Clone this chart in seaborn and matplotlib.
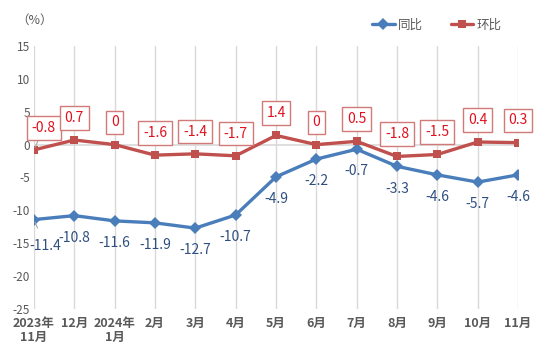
import matplotlib
matplotlib.use("Agg")
import matplotlib.pyplot as plt
import seaborn as sns
import pandas as pd
from matplotlib.lines import Line2D

categories = ["2023年\n11月", "12月", "2024年\n1月", "2月", "3月", "4月", "5月",
              "6月", "7月", "8月", "9月", "10月", "11月"]
yoy = [-11.4, -10.8, -11.6, -11.9, -12.7, -10.7, -4.9, -2.2, -0.7, -3.3, -4.6, -5.7, -4.6]
mom = [-0.8, 0.7, 0, -1.6, -1.4, -1.7, 1.4, 0, 0.5, -1.8, -1.5, 0.4, 0.3]
yticks = [15, 10, 5, 0, -5, -10, -15, -20, -25]
series_names = ["同比", "环比"]

sns.set_theme(style="white")
plt.rcParams['font.family'] = ['Liberation Sans Narrow', 'Noto Sans CJK SC', 'DejaVu Sans']

df = pd.DataFrame({
    "idx": list(range(len(categories))) * 2,
    "value": yoy + mom,
    "series": [series_names[0]] * len(yoy) + [series_names[1]] * len(mom),
})

blue = "#4A7EBB"
red = "#C0504D"

fig = plt.figure(figsize=(5.42, 3.58), dpi=100)
ax = fig.add_axes([34 / 542, 49 / 358, (518 - 34) / 542, (309 - 46) / 358])

ax.axhline(0, color="#D9D9D9", lw=1.2, zorder=0)
for i in range(len(categories)):
    ax.axvline(i, color="#D9D9D9", lw=1, zorder=0)

sns.lineplot(data=df, x="idx", y="value", hue="series", style="series",
             markers={"同比": "D", "环比": "s"}, dashes=False,
             palette={"同比": blue, "环比": red}, linewidth=2.4,
             markersize=6, markeredgewidth=0, ax=ax, legend=False, zorder=3)

ax.set_xlim(0, len(categories) - 1)
ax.set_ylim(-25, 15)
ax.set_yticks(yticks)
ax.set_yticklabels([str(t) for t in yticks], color="#595959", fontsize=8.5)
ax.set_xticks(range(len(categories)))
ax.set_xticklabels(categories, color="#595959", fontsize=9, fontweight="bold",
                   linespacing=1.1)
ax.tick_params(axis="both", length=0, pad=3)
ax.tick_params(axis="x", pad=6)
for s in ax.spines.values():
    s.set_visible(False)
ax.set_xlabel("")
ax.set_ylabel("")

for i, v in enumerate(mom):
    dx = 7 if i == 0 else 0
    kw = {}
    if i == 0:
        kw["arrowprops"] = dict(arrowstyle="-", color="#A6A6A6", lw=0.8, shrinkA=0, shrinkB=2)
    ax.annotate(f"{v:g}", (i, v), xytext=(dx, 16), textcoords="offset points",
                ha="center", va="center", color="#E0101E", fontsize=10,
                bbox=dict(boxstyle="square,pad=0.35", fc="white", ec="#D27A78", lw=1),
                zorder=5, **kw)

for i, v in enumerate(yoy):
    dx = 8 if i == 0 else 0
    dy = -19 if i == 0 else -16
    kw = {}
    if i == 0:
        kw["arrowprops"] = dict(arrowstyle="-", color="#A6A6A6", lw=0.8, shrinkA=6, shrinkB=2)
    ax.annotate(f"{v:g}", (i, v), xytext=(dx, dy), textcoords="offset points",
                ha="center", va="center", color="#2F4F80", fontsize=10,
                zorder=5, **kw)

fig.text(16 / 542, 1 - 20 / 358, "（%）", color="#595959", fontsize=9, va="center", ha="left")

handles = [Line2D([], [], color=blue, marker="D", lw=2.4, markersize=6, markeredgewidth=0),
           Line2D([], [], color=red, marker="s", lw=2.4, markersize=6, markeredgewidth=0)]
fig.legend(handles, series_names, loc="center", bbox_to_anchor=(437 / 542, 1 - 25 / 358),
           ncol=2, frameon=False, fontsize=9, handlelength=1.8, columnspacing=2.2,
           handletextpad=0.3, labelcolor="#595959")

fig.savefig("out.png", dpi=100)
